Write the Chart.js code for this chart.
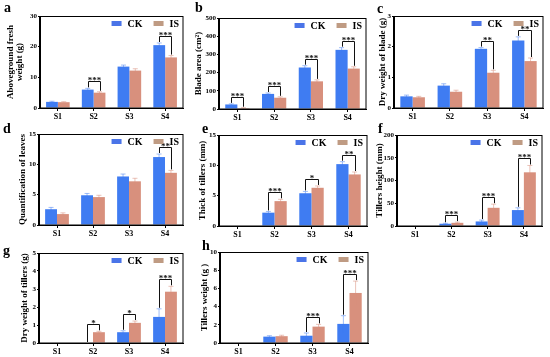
<!DOCTYPE html>
<html>
<head>
<meta charset="utf-8">
<script src="https://cdn.jsdelivr.net/npm/chart.js@4.4.1/dist/chart.umd.min.js"></script>
<style>
  body { margin: 0; background: #fff; width: 550px; height: 357px; position: relative; overflow: hidden; }
  canvas { position: absolute; }
  .tag { position: absolute; font: bold 14px 'Liberation Serif', serif; line-height: 14px; color: #000; }
</style>
</head>
<body>
<script>
const categories = ['S1', 'S2', 'S3', 'S4'];
const seriesNames = ['CK', 'IS'];

// a - aboveground fresh weight
const freshCK = [2.0, 6.0, 13.5, 20.5];
const freshIS = [1.9, 5.0, 12.2, 16.5];
const freshCKErr = [0.2, 0.4, 0.5, 0.7];
const freshISErr = [0.15, 0.3, 0.6, 0.6];
const freshSig = ['', '***', '', '***'];

// b - blade area
const areaCK = [25, 83, 228, 325];
const areaIS = [5, 62, 152, 222];
const areaCKErr = [3, 5, 10, 12];
const areaISErr = [2, 5, 8, 10];
const areaSig = ['***', '***', '***', '***'];

// c - dry weight of blade
const bladeCK = [0.38, 0.73, 1.93, 2.2];
const bladeIS = [0.35, 0.53, 1.15, 1.53];
const bladeCKErr = [0.04, 0.06, 0.04, 0.12];
const bladeISErr = [0.03, 0.05, 0.08, 0.1];
const bladeSig = ['', '', '**', '**'];

// d - quantification of leaves
const leavesCK = [2.6, 4.9, 8.0, 11.2];
const leavesIS = [1.8, 4.6, 7.2, 8.6];
const leavesCKErr = [0.3, 0.3, 0.4, 0.5];
const leavesISErr = [0.2, 0.3, 0.5, 0.4];
const leavesSig = ['', '', '', '**'];

// e - thick of tillers
const thickCK = [0, 2.2, 5.4, 10.2];
const thickIS = [0, 4.1, 6.3, 8.5];
const thickCKErr = [0, 0.2, 0.3, 0.4];
const thickISErr = [0, 0.3, 0.3, 0.4];
const thickSig = ['', '***', '*', '**'];

// f - tillers height
const heightCK = [0, 5, 10, 35];
const heightIS = [0, 7, 40, 118];
const heightCKErr = [0, 1, 3, 5];
const heightISErr = [0, 1.5, 8, 15];
const heightSig = ['', '***', '***', '***'];

// g - dry weight of tillers
const tillerDryCK = [0, 0, 0.6, 1.45];
const tillerDryIS = [0, 0.6, 1.12, 2.85];
const tillerDryCKErr = [0, 0, 0.08, 0.45];
const tillerDryISErr = [0, 0.05, 0.1, 0.3];
const tillerDrySig = ['', '*', '*', '***'];

// h - tillers weight
const tillerWCK = [0, 0.7, 0.8, 2.1];
const tillerWIS = [0, 0.75, 1.8, 5.5];
const tillerWCKErr = [0, 0.1, 0.3, 0.9];
const tillerWISErr = [0, 0.1, 0.25, 1.3];
const tillerWSig = ['', '', '***', '***'];

const CK_COLOR = '#3f7cf2';
const IS_COLOR = '#d8907d';
const CK_LEGEND = '#4a74e8';
const IS_LEGEND = '#bf9b83';
const FONT = "'Liberation Serif', serif";

// box = plot area [left, top, right, bottom] on the page
const panels = [
  { tag: 'a', tagPos: [4, 1], ck: freshCK, is: freshIS, ckErr: freshCKErr, isErr: freshISErr, sig: freshSig, max: 30, step: 10, title: ['Aboveground fresh', 'weight (g)'], titleX: -25, box: [40, 16, 183, 108] },
  { tag: 'b', tagPos: [195, 1], ck: areaCK, is: areaIS, ckErr: areaCKErr, isErr: areaISErr, sig: areaSig, max: 500, step: 100, title: ['Blade area (cm²)'], titleX: -20, box: [219, 18, 366, 109] },
  { tag: 'c', tagPos: [377, 2], ck: bladeCK, is: bladeIS, ckErr: bladeCKErr, isErr: bladeISErr, sig: bladeSig, max: 3, step: 1, title: ['Dry weight of blade (g)'], titleX: -11, box: [394, 16, 543, 108] },
  { tag: 'd', tagPos: [3, 122], ck: leavesCK, is: leavesIS, ckErr: leavesCKErr, isErr: leavesISErr, sig: leavesSig, max: 15, step: 5, title: ['Quantification of leaves'], titleX: -16, box: [39, 134, 183, 225] },
  { tag: 'e', tagPos: [202, 122], ck: thickCK, is: thickIS, ckErr: thickCKErr, isErr: thickISErr, sig: thickSig, max: 15, step: 5, title: ['Thick of tillers (mm)'], titleX: -16, box: [219, 135, 367, 226] },
  { tag: 'f', tagPos: [378, 122], ck: heightCK, is: heightIS, ckErr: heightCKErr, isErr: heightISErr, sig: heightSig, max: 200, step: 50, title: ['Tillers height (mm)'], titleX: -17, box: [397, 135, 542, 226] },
  { tag: 'g', tagPos: [3, 244], ck: tillerDryCK, is: tillerDryIS, ckErr: tillerDryCKErr, isErr: tillerDryISErr, sig: tillerDrySig, max: 5, step: 1, title: ['Dry weight of tillers (g)'], titleX: -14, box: [39, 253, 183, 343] },
  { tag: 'h', tagPos: [202, 239], ck: tillerWCK, is: tillerWIS, ckErr: tillerWCKErr, isErr: tillerWISErr, sig: tillerWSig, max: 10, step: 2, title: ['Tillers weight (g )'], titleX: -15, box: [220, 252, 368, 343] },
];

const PAD_L = 42, PAD_T = 8, PAD_R = 3, PAD_B = 14;

const panelDecor = {
  id: 'panelDecor',
  afterDatasetsDraw(chart) {
    const p = chart.options.plugins.panelDecor;
    const ctx = chart.ctx;
    const area = chart.chartArea;
    const y = chart.scales.y;
    ctx.save();

    // error bars
    [0, 1].forEach((di) => {
      const meta = chart.getDatasetMeta(di);
      const vals = di === 0 ? p.ck : p.is;
      const errs = di === 0 ? p.ckErr : p.isErr;
      ctx.strokeStyle = di === 0 ? 'rgba(63,124,242,0.5)' : 'rgba(216,144,125,0.55)';
      ctx.lineWidth = 1;
      meta.data.forEach((bar, i) => {
        if (!errs[i]) return;
        const yTop = y.getPixelForValue(vals[i] + errs[i]);
        const yBot = y.getPixelForValue(Math.max(vals[i] - errs[i], 0));
        ctx.beginPath();
        ctx.moveTo(bar.x, yBot);
        ctx.lineTo(bar.x, yTop);
        ctx.moveTo(bar.x - 2.5, yTop);
        ctx.lineTo(bar.x + 2.5, yTop);
        ctx.stroke();
      });
    });

    // significance brackets
    const ckMeta = chart.getDatasetMeta(0);
    const isMeta = chart.getDatasetMeta(1);
    ctx.strokeStyle = '#111';
    ctx.fillStyle = '#111';
    ctx.lineWidth = 1;
    ctx.font = 'bold 9px ' + FONT;
    ctx.textAlign = 'center';
    ctx.textBaseline = 'alphabetic';
    p.sig.forEach((s, i) => {
      if (!s) return;
      const x1 = Math.round(ckMeta.data[i].x) + 0.5;
      const x2 = Math.round(isMeta.data[i].x) + 0.5;
      const t1 = y.getPixelForValue(p.ck[i] + p.ckErr[i]) - 1;
      const t2 = y.getPixelForValue(p.is[i] + p.isErr[i]) - 1;
      const yb = Math.round(Math.min(t1, t2) - 6) + 0.5;
      ctx.beginPath();
      ctx.moveTo(x1, t1);
      ctx.lineTo(x1, yb);
      ctx.lineTo(x2, yb);
      ctx.lineTo(x2, t2);
      ctx.stroke();
      ctx.fillText(s, (x1 + x2) / 2, yb + 1);
    });

    // frame around plot
    ctx.strokeStyle = '#000';
    ctx.lineWidth = 1;
    ctx.strokeRect(Math.round(area.left) - 0.5, Math.round(area.top) + 0.5,
      Math.round(area.right - area.left) + 0.5, Math.round(area.bottom - area.top) - 0.5);

    // legend (top right inside plot)
    ctx.font = 'bold 10px ' + FONT;
    ctx.textAlign = 'left';
    ctx.textBaseline = 'middle';
    const ly = area.top + 7.5;
    let x = area.right - 4;
    const items = [[seriesNames[1], IS_LEGEND], [seriesNames[0], CK_LEGEND]];
    items.forEach(([name, col]) => {
      const w = ctx.measureText(name).width;
      x -= w;
      ctx.fillStyle = '#000';
      ctx.fillText(name, x, ly + 0.5);
      x -= 6 + 10;
      ctx.fillStyle = col;
      ctx.fillRect(x, ly - 2.5, 10, 5);
      x -= 11;
    });

    // y axis title
    ctx.save();
    ctx.fillStyle = '#000';
    ctx.font = 'bold 9px ' + FONT;
    ctx.textAlign = 'center';
    ctx.textBaseline = 'middle';
    ctx.translate(area.left + p.titleX, (area.top + area.bottom) / 2);
    ctx.rotate(-Math.PI / 2);
    const n = p.title.length;
    p.title.forEach((line, k) => {
      ctx.fillText(line, 0, (k - (n - 1) / 2) * 9.5);
    });
    ctx.restore();

    ctx.restore();
  },
};

panels.forEach((p) => {
  const [l, t, r, b] = p.box;
  const canvas = document.createElement('canvas');
  const w = r - l + PAD_L + PAD_R;
  const h = b - t + PAD_T + PAD_B;
  canvas.width = w;
  canvas.height = h;
  canvas.style.left = (l - PAD_L) + 'px';
  canvas.style.top = (t - PAD_T) + 'px';
  canvas.style.width = w + 'px';
  canvas.style.height = h + 'px';
  document.body.appendChild(canvas);

  const tag = document.createElement('div');
  tag.className = 'tag';
  tag.textContent = p.tag;
  tag.style.left = p.tagPos[0] + 'px';
  tag.style.top = p.tagPos[1] + 'px';
  document.body.appendChild(tag);

  new Chart(canvas, {
    type: 'bar',
    plugins: [panelDecor],
    data: {
      labels: categories,
      datasets: [
        { label: seriesNames[0], data: p.ck, backgroundColor: CK_COLOR, borderWidth: 0 },
        { label: seriesNames[1], data: p.is, backgroundColor: IS_COLOR, borderWidth: 0 },
      ],
    },
    options: {
      responsive: false,
      animation: false,
      devicePixelRatio: 1,
      categoryPercentage: 0.66,
      barPercentage: 1.0,
      layout: { padding: { top: PAD_T, right: PAD_R, left: 0, bottom: 0 } },
      plugins: {
        legend: { display: false },
        tooltip: { enabled: false },
        panelDecor: p,
      },
      scales: {
        x: {
          afterFit: (s) => { s.height = PAD_B; },
          grid: { offset: false, drawOnChartArea: false, tickLength: 3, color: '#000' },
          border: { display: true, color: '#000', width: 1 },
          ticks: { color: '#000', padding: 1, font: { family: FONT, size: 8, weight: 'bold' } },
        },
        y: {
          min: 0,
          max: p.max,
          afterFit: (s) => { s.width = PAD_L; },
          grid: { drawOnChartArea: false, tickLength: 2, color: '#000' },
          border: { display: true, color: '#000', width: 1 },
          ticks: { stepSize: p.step, color: '#000', padding: 1, font: { family: FONT, size: 7, weight: 'bold' } },
        },
      },
    },
  });
});
</script>
</body>
</html>
